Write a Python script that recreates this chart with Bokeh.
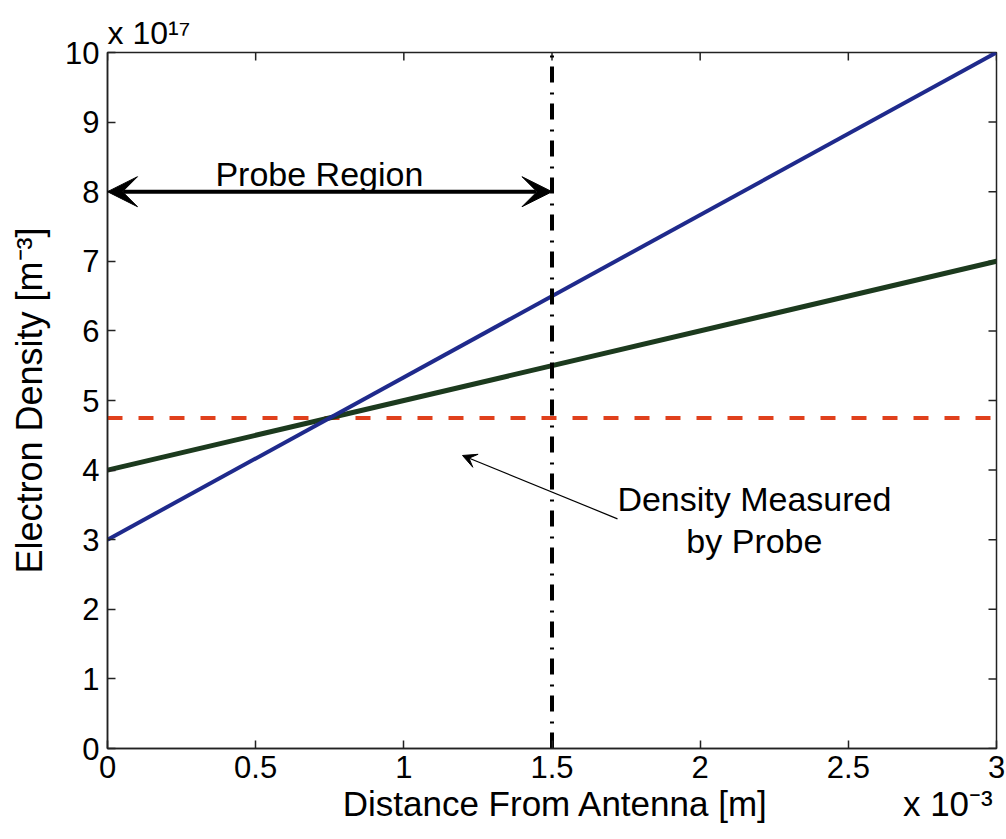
import math
from bokeh.plotting import figure
from bokeh.models import Range1d, Label, Arrow, VeeHead, FixedTicker
from bokeh.embed import file_html
from bokeh.resources import INLINE

# data (x in units of 1e-3 m, y in units of 1e17 m^-3)
x_line = [0, 3]
blue_y = [3, 10]
green_y = [4, 7]
probe_density = 4.75
probe_edge = 1.5
region_arrow_y = 8
x_ticks = [0, 0.5, 1, 1.5, 2, 2.5, 3]
y_ticks = [0, 1, 2, 3, 4, 5, 6, 7, 8, 9, 10]
x_label = "Distance From Antenna [m]"
x_exponent = "x 10\u207b\u00b3"
y_label = "Electron Density [m\u207b\u00b3]"
y_exponent = "x 10\u00b9\u2077"

FONT = "Liberation Sans"
NB = "\u00a0"

p = figure(frame_width=889, frame_height=696, min_border_left=107, min_border_right=10,
           min_border_top=52, min_border_bottom=91, output_backend="svg",
           toolbar_location=None, x_range=Range1d(0, 3), y_range=Range1d(0, 10))
p.grid.visible = False
p.outline_line_color = "#222222"
p.outline_line_width = 1.5
p.background_fill_color = "white"
p.border_fill_color = "white"

# exponent of the y axis, drawn as the title at the top left
p.title.text = y_exponent
p.title.align = "left"
p.title.text_font = FONT
p.title.text_font_size = "32px"
p.title.text_font_style = "normal"
p.title.text_color = "black"
p.title.standoff = 4
p.title.offset = 0

for ax in (p.xaxis[0], p.yaxis[0]):
    ax.major_tick_in = 8
    ax.major_tick_out = 0
    ax.minor_tick_in = 0
    ax.minor_tick_out = 0
    ax.axis_line_color = "#222222"
    ax.axis_line_width = 1.5
    ax.major_tick_line_color = "#222222"
    ax.major_tick_line_width = 1.5
    ax.major_label_text_font = FONT
    ax.major_label_text_font_size = "31px"
    ax.major_label_text_color = "black"
    ax.axis_label_text_font = FONT
    ax.axis_label_text_font_style = "normal"
    ax.axis_label_text_color = "black"

p.xaxis[0].ticker = FixedTicker(ticks=x_ticks)
p.yaxis[0].ticker = FixedTicker(ticks=y_ticks)
p.xaxis[0].major_label_overrides = {t: ("%g" % t) for t in x_ticks}
# x label with its exponent on the same row (non-breaking spaces keep the gap)
p.xaxis[0].axis_label = NB * 24 + x_label + NB * 14 + x_exponent
p.xaxis[0].axis_label_text_font_size = "35px"
p.yaxis[0].axis_label = y_label
p.yaxis[0].axis_label_text_font_size = "36px"
p.xaxis[0].major_label_standoff = 7
p.yaxis[0].major_label_standoff = 8
p.xaxis[0].axis_label_standoff = 3
p.yaxis[0].axis_label_standoff = 12

# mirrored inward ticks on the top and right edges
p.ray(x=x_ticks, y=[10] * len(x_ticks), length=8, length_units="screen",
      angle=-math.pi / 2, line_color="#222222", line_width=1.5)
p.ray(x=[3] * len(y_ticks), y=y_ticks, length=8, length_units="screen",
      angle=math.pi, line_color="#222222", line_width=1.5)

# lines
p.line(x_line, [probe_density, probe_density], line_color="#e0401c", line_width=4,
       line_dash="15 16")
p.line(x_line, green_y, line_color="#1c3a1e", line_width=5)
p.line(x_line, blue_y, line_color="#1f2a8c", line_width=4)
p.line([probe_edge, probe_edge], [0, 10], line_color="black", line_width=4,
       line_dash="16 9 2 10")

# probe region arrow
p.add_layout(Arrow(x_start=0, y_start=region_arrow_y, x_end=probe_edge, y_end=region_arrow_y,
                   line_width=4, line_color="black",
                   start=VeeHead(size=30, fill_color="black", line_color="black", line_width=1),
                   end=VeeHead(size=30, fill_color="black", line_color="black", line_width=1)))
p.add_layout(Label(x=0.715, y=8.26, text="Probe Region", text_font=FONT,
                   text_font_size="34px", text_align="center", text_baseline="middle",
                   text_color="black"))

# annotation arrow
p.add_layout(Arrow(x_start=1.721, y_start=3.30, x_end=1.198, y_end=4.21,
                   line_width=1.2, line_color="black",
                   end=VeeHead(size=14, fill_color="black", line_color="black", line_width=1)))
p.add_layout(Label(x=2.183, y=3.58, text="Density Measured", text_font=FONT,
                   text_font_size="34px", text_align="center", text_baseline="middle",
                   text_color="black"))
p.add_layout(Label(x=2.183, y=2.98, text="by Probe", text_font=FONT,
                   text_font_size="34px", text_align="center", text_baseline="middle",
                   text_color="black"))

open("out.html", "w").write(file_html(p, INLINE))
